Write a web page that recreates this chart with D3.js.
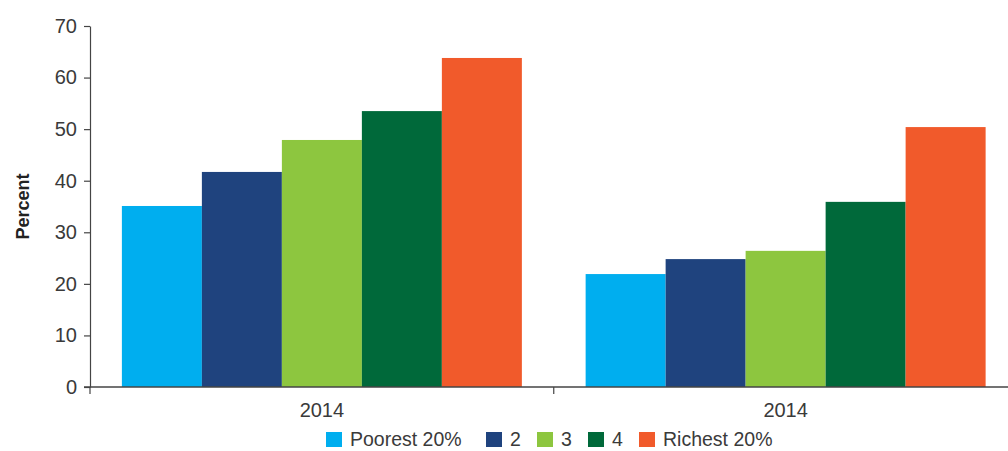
<!DOCTYPE html>
<html>
<head>
<meta charset="utf-8">
<script src="https://cdn.jsdelivr.net/npm/d3@7"></script>
<style>
  html, body { margin: 0; padding: 0; background: #fff; }
  svg { display: block; }
  text { font-family: "Liberation Sans", Arial, Helvetica, sans-serif; }
</style>
</head>
<body>
<svg id="chart" width="1008" height="451"></svg>
<script>
// Groups along the x axis
const categories = ["2014a", "2014b"];
const categoryLabels = ["2014", "2014"];

// Wealth quintiles
const series = ["Poorest 20%", "2", "3", "4", "Richest 20%"];
const seriesColors = ["#00aeef", "#1f437e", "#8dc63f", "#00693a", "#f15a2b"];

// Percent by quintile, one array per group
const group1Values = [35.1, 41.7, 47.9, 53.5, 63.8];
const group2Values = [21.9, 24.8, 26.4, 35.9, 50.4];

const yTicks = [0, 10, 20, 30, 40, 50, 60, 70];

const data = categories.map((c, i) => ({
  key: c,
  label: categoryLabels[i],
  values: (i === 0 ? group1Values : group2Values).map((v, j) => ({ series: series[j], value: v }))
}));

const svg = d3.select("#chart");
const x0 = 90, x1 = 1017.5, yTop = 26, yBottom = 387;

const x = d3.scaleBand().domain(categories).range([x0, x1]).paddingInner(0.1375).paddingOuter(0.06875);
const xs = d3.scaleBand().domain(series).range([0, x.bandwidth()]).padding(0);
const y = d3.scaleLinear().domain([0, 70]).range([yBottom, yTop]);

const textColor = "#3a3a3a";
const axisColor = "#444";
const fontSize = "20px";

// Bars
const g = svg.append("g");
g.selectAll("g.grp").data(data).join("g")
  .attr("class", "grp")
  .attr("transform", d => `translate(${x(d.key)},0)`)
  .selectAll("rect").data(d => d.values).join("rect")
  .attr("x", d => xs(d.series))
  .attr("width", xs.bandwidth())
  .attr("y", d => y(d.value))
  .attr("height", d => y(0) - y(d.value))
  .attr("fill", (d, i) => seriesColors[i]);

// Y axis
const yAxis = svg.append("g")
  .attr("transform", `translate(${x0},0)`)
  .call(d3.axisLeft(y).tickValues(yTicks).tickSize(6).tickPadding(7).tickSizeOuter(0));
yAxis.select(".domain").attr("stroke", axisColor).attr("stroke-width", 1.2);
yAxis.selectAll(".tick line").attr("stroke", axisColor).attr("stroke-width", 1.2);
yAxis.selectAll(".tick text").attr("fill", textColor).style("font-size", fontSize);

// X axis: boundaries between groups carry the ticks
const xAxisG = svg.append("g").attr("transform", `translate(0,${yBottom})`);
xAxisG.append("line")
  .attr("x1", x0 - 6).attr("x2", x1).attr("y1", 0).attr("y2", 0)
  .attr("stroke", axisColor).attr("stroke-width", 1.5);
const boundaries = [x0, (x(categories[0]) + x.bandwidth() + x(categories[1])) / 2];
xAxisG.selectAll("line.tk").data(boundaries).join("line")
  .attr("class", "tk")
  .attr("x1", d => d).attr("x2", d => d)
  .attr("y1", 0).attr("y2", 7)
  .attr("stroke", axisColor).attr("stroke-width", 1.2);
xAxisG.selectAll("text.lbl").data(data).join("text")
  .attr("class", "lbl")
  .attr("x", d => x(d.key) + x.bandwidth() / 2)
  .attr("y", 30)
  .attr("text-anchor", "middle")
  .attr("fill", textColor)
  .style("font-size", fontSize)
  .text(d => d.label);

// Y axis title
svg.append("text")
  .attr("transform", `translate(29,${(yTop + yBottom) / 2}) rotate(-90)`)
  .attr("text-anchor", "middle")
  .attr("fill", "#222")
  .style("font-size", "18px")
  .style("font-weight", "bold")
  .text("Percent");

// Legend
const legendX = [326, 486, 537, 588, 639];
const legend = svg.append("g").attr("transform", "translate(0,432)");
const li = legend.selectAll("g").data(series).join("g")
  .attr("transform", (d, i) => `translate(${legendX[i]},0)`);
li.append("rect").attr("width", 16).attr("height", 15).attr("fill", (d, i) => seriesColors[i]);
li.append("text")
  .attr("x", 24).attr("y", 14)
  .attr("fill", textColor)
  .style("font-size", "19.5px")
  .text(d => d);
</script>
</body>
</html>
